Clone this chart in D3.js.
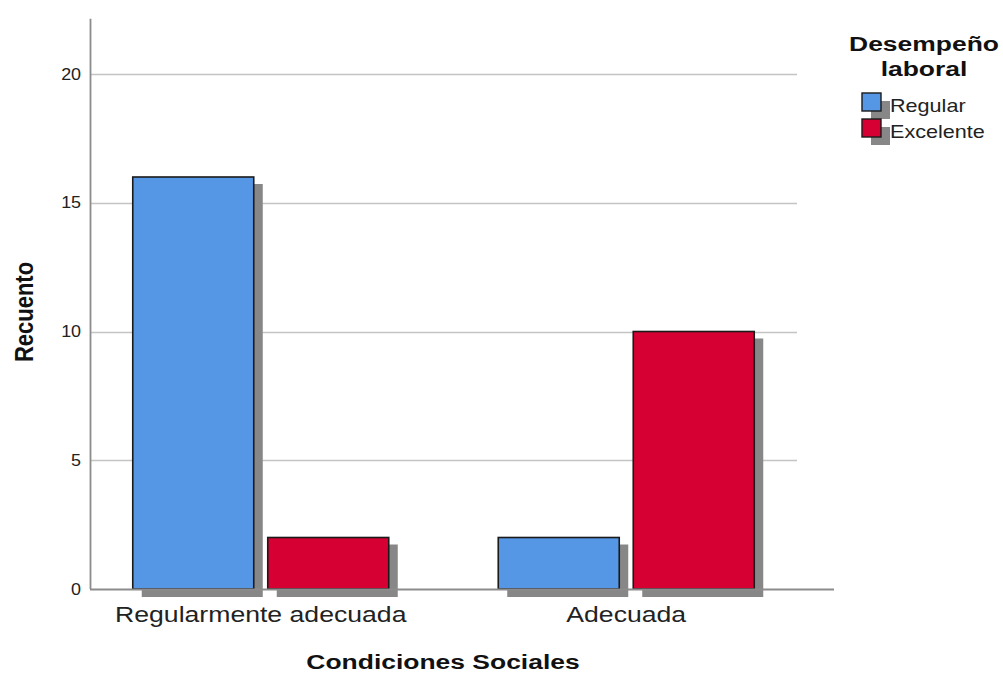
<!DOCTYPE html>
<html>
<head>
<meta charset="utf-8">
<script src="https://cdn.jsdelivr.net/npm/d3@7"></script>
<style>
  html, body { margin: 0; padding: 0; background: #fff; }
  svg { display: block; font-family: "Liberation Sans", Arial, sans-serif; }
</style>
</head>
<body>
<svg id="chart" width="1003" height="674"></svg>
<script>
// Grouped counts: social conditions vs. job performance
const categories = ["Regularmente adecuada", "Adecuada"];
const seriesNames = ["Regular", "Excelente"];
const regularValues = [16, 2];
const excelenteValues = [2, 10];
const yTicks = [0, 5, 10, 15, 20];
const colors = ["#5596e5", "#d60032"];

const values = [regularValues, excelenteValues];
const data = categories.map((c, i) => ({
  category: c,
  bars: seriesNames.map((s, j) => ({ series: s, value: values[j][i], color: colors[j] }))
}));

const svg = d3.select("#chart");
const stretch = 1.21; // wide lettering used throughout

const baseY = 589;
const y = d3.scaleLinear().domain([0, 20]).range([baseY, 74]);
const yTop = y(22.15);

const x0 = d3.scaleBand().domain(categories).range([78, 809]).padding(0);
const groupWidth = 256;
const x1 = d3.scaleBand().domain(seriesNames).range([0, groupWidth]).paddingInner(14 / 135).paddingOuter(0);

const axisX = 90;
const gridRight = 797;
const xAxisRight = 834;
const shadowDx = 9, shadowDy = 8;

// helper: horizontally stretched text anchored at (x, y)
function wideText(parent, x, yPos, str, opts) {
  return parent.append("text")
    .attr("transform", `translate(${x},${yPos}) scale(${opts.sx || stretch},1)`)
    .attr("text-anchor", opts.anchor || "start")
    .attr("font-size", opts.size)
    .attr("font-weight", opts.weight || "normal")
    .attr("fill", opts.fill || "#222")
    .text(str);
}

// Gridlines
svg.append("g")
  .selectAll("line")
  .data(yTicks.filter(d => d > 0))
  .join("line")
  .attr("x1", axisX).attr("x2", gridRight)
  .attr("y1", d => Math.round(y(d)) + 0.5).attr("y2", d => Math.round(y(d)) + 0.5)
  .attr("stroke", "#c4c4c4").attr("stroke-width", 1.3);

// Y axis tick labels via d3 axis
const yAxis = d3.axisLeft(y).tickValues(yTicks).tickSize(0).tickPadding(8).tickFormat(d3.format("d"));
const gy = svg.append("g").attr("transform", `translate(${axisX},0)`).call(yAxis);
gy.select(".domain").remove();
gy.selectAll("text")
  .attr("font-size", 16)
  .attr("fill", "#222")
  .attr("font-family", "'Liberation Sans', Arial, sans-serif")
  .attr("transform", "scale(1.12,1)");

// Bars with drop shadows
const groups = svg.append("g")
  .selectAll("g")
  .data(data)
  .join("g")
  .attr("transform", d => `translate(${x0(d.category) + (x0.bandwidth() - groupWidth) / 2},0)`);

groups.selectAll("rect.shadow")
  .data(d => d.bars)
  .join("rect")
  .attr("class", "shadow")
  .attr("x", d => x1(d.series) + shadowDx)
  .attr("y", d => y(d.value) + shadowDy - 1)
  .attr("width", x1.bandwidth())
  .attr("height", d => baseY - y(d.value) + 1)
  .attr("fill", "#878787");

groups.selectAll("rect.bar")
  .data(d => d.bars)
  .join("rect")
  .attr("class", "bar")
  .attr("x", d => x1(d.series))
  .attr("y", d => y(d.value))
  .attr("width", x1.bandwidth())
  .attr("height", d => baseY - y(d.value))
  .attr("fill", d => d.color)
  .attr("stroke", "#1a1a1a")
  .attr("stroke-width", 1.6);

// Axis lines
svg.append("line")
  .attr("x1", axisX + 0.5).attr("x2", axisX + 0.5)
  .attr("y1", yTop).attr("y2", baseY)
  .attr("stroke", "#8c8c8c").attr("stroke-width", 1.8);
svg.append("line")
  .attr("x1", axisX).attr("x2", xAxisRight)
  .attr("y1", baseY + 0.5).attr("y2", baseY + 0.5)
  .attr("stroke", "#8c8c8c").attr("stroke-width", 1.8);

// Category labels
const catG = svg.append("g");
categories.forEach(c => {
  wideText(catG, x0(c) + x0.bandwidth() / 2, 622, c, { size: 22, anchor: "middle", fill: "#222" });
});

// Axis titles
wideText(svg, 443, 669, "Condiciones Sociales", { size: 21, weight: "bold", anchor: "middle", fill: "#111", sx: 1.26 });

svg.append("text")
  .attr("transform", `translate(33,312) scale(${stretch},1) rotate(-90)`)
  .attr("text-anchor", "middle")
  .attr("font-size", 22).attr("font-weight", "bold")
  .attr("fill", "#111")
  .text("Recuento");

// Legend
const legend = svg.append("g");
wideText(legend, 924, 51, "Desempeño", { size: 21, weight: "bold", anchor: "middle", fill: "#111", sx: 1.26 });
wideText(legend, 924, 76, "laboral", { size: 21, weight: "bold", anchor: "middle", fill: "#111", sx: 1.26 });

const items = legend.selectAll("g.item")
  .data(seriesNames.map((s, i) => ({ name: s, color: colors[i] })))
  .join("g")
  .attr("class", "item")
  .attr("transform", (d, i) => `translate(862,${93 + i * 26})`);

items.append("rect")
  .attr("x", 9).attr("y", 8)
  .attr("width", 19).attr("height", 18)
  .attr("fill", "#878787");
items.append("rect")
  .attr("x", 0).attr("y", 0)
  .attr("width", 19).attr("height", 18)
  .attr("fill", d => d.color)
  .attr("stroke", "#1a1a1a").attr("stroke-width", 1.4);
items.each(function (d) {
  wideText(d3.select(this), 28, 19, d.name, { size: 18, fill: "#222", sx: 1.2 });
});
</script>
</body>
</html>
